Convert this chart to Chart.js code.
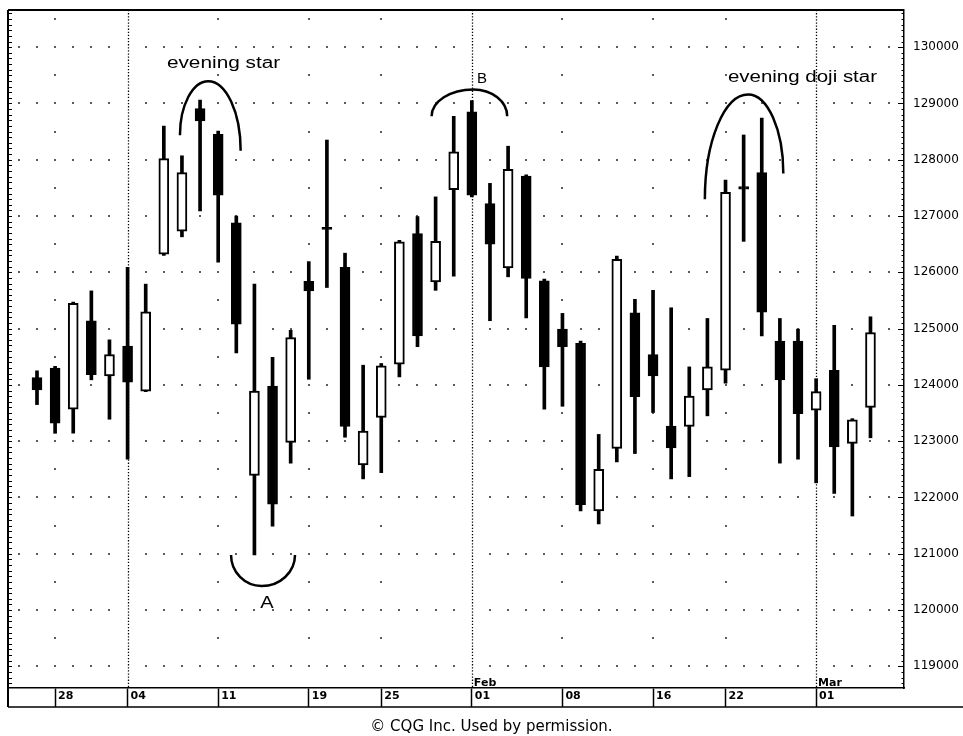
<!DOCTYPE html>
<html>
<head>
<meta charset="utf-8">
<script src="https://cdn.jsdelivr.net/npm/chart.js@4/dist/chart.umd.min.js"></script>
<style>
html,body{margin:0;padding:0;background:#fff;}
#wrap{position:relative;width:963px;height:736px;overflow:hidden;}
#c{position:absolute;left:0;top:0;}
#credit{position:absolute;left:10px;width:963px;top:717px;line-height:18px;text-align:center;font-family:"DejaVu Sans";font-size:15px;color:#000;}
</style>
</head>
<body>
<div id="wrap">
<canvas id="c" width="963" height="736"></canvas>
<div id="credit">© CQG Inc. Used by permission.</div>
</div>
<script>
// ---- data ----
const dates = ['Dec 24','Dec 28','Dec 29','Dec 30','Dec 31','Jan 04','Jan 05','Jan 06','Jan 07','Jan 08',
  'Jan 11','Jan 12','Jan 13','Jan 14','Jan 15','Jan 19','Jan 20','Jan 21','Jan 22','Jan 25',
  'Jan 26','Jan 27','Jan 28','Jan 29','Feb 01','Feb 02','Feb 03','Feb 04','Feb 05','Feb 08',
  'Feb 09','Feb 10','Feb 11','Feb 12','Feb 16','Feb 17','Feb 18','Feb 19','Feb 22','Feb 23',
  'Feb 24','Feb 25','Feb 26','Mar 01','Mar 02','Mar 03','Mar 04'];
const opens  = [124130,124300,123570,125140,124160,124690,123890,126320,126730,128910,
  128450,126880,122390,123980,122980,125840,126800,126090,122580,123420,
  124370,126690,125830,127470,128850,127220,126080,127710,125850,124990,
  124740,121760,122870,125280,124540,123270,123260,123910,124260,127525,
  127770,124780,124780,123550,124260,122960,123600];
const highs  = [124250,124330,125470,125670,124800,126090,125790,128600,128070,129060,
  128510,127000,125790,124490,124970,126190,128350,126340,124350,124380,
  126570,126990,127340,128770,129050,127580,128240,127730,125880,125270,
  124780,123120,126290,125520,125680,125370,124320,125180,127640,128440,
  128740,125180,124990,124110,125060,123400,125210];
const lows   = [123650,123140,123140,124090,123390,122680,123880,126300,126630,127090,
  126180,124570,120980,121490,122610,124100,125730,123070,122330,122440,
  124140,124680,125680,125930,127340,125140,125920,125190,123570,123620,
  121760,121530,122630,122780,123510,122330,122370,123450,124030,126550,
  124870,122610,122680,122260,122070,121670,123060];
const closes = [123910,123320,125450,124180,124540,124050,125300,128020,127770,128690,
  127370,125080,123890,121880,124840,125670,126760,123260,123180,124340,
  126540,124870,126550,128140,127370,126500,127830,125890,124320,124680,
  121870,122500,126230,123790,124160,122880,123800,124320,127420,127475,
  125290,124090,123490,123880,122900,123380,124930];
const weekTickSlots  = [2,6,11,16,20,25,30,35,39,44];
const weekTickLabels = ['28','04','11','19','25','01','08','16','22','01'];
const monthSlots  = [6,25,44];
const monthLabels = ['','Feb','Mar'];
const priceTicks = [119000,120000,121000,122000,123000,124000,125000,126000,127000,128000,129000,130000];
const annotationTexts = ['evening star','B','A','evening doji star'];

// ---- layout (positions in data units: slot index, price) ----
const SLOT_MIN = -0.6, SLOT_MAX = 48.85, SLOT_LAST = 48;
const PRICE_MIN = 118615, PRICE_MAX = 130660;
const arcs = [
  [[8.89,128437],[10.45,129396],[12.24,128158]],
  [[22.78,128774],[25.08,129249],[26.95,128774]],
  [[11.71,120977],[13.40,120426],[15.24,120977]],
  [[37.86,127300],[40.25,129160],[42.19,127757]]
];
const textPos = [
  {slot:8.17, price:129627, align:'left', size:16, sx:1.3},
  {slot:25.56, price:129361, align:'center', size:15, sx:1.0},
  {slot:13.69, price:120036, align:'center', size:16, sx:1.25},
  {slot:39.13, price:129384, align:'left', size:16, sx:1.28}
];

const slots = dates.map((d, i) => i + 1);
const wickData = slots.map((s, i) => ({x: s, y: [lows[i], highs[i]]}));
const bodyData = slots.map((s, i) => ({x: s, y: [opens[i], closes[i]]}));
const bodyFill = slots.map((s, i) => closes[i] >= opens[i] ? '#ffffff' : '#000000');

Chart.defaults.font.family = '"DejaVu Sans"';
Chart.defaults.color = '#000';

const decor = {
  id: 'decor',
  beforeDatasetsDraw(chart) {
    const {ctx, chartArea: a, scales: {x, y}} = chart;
    ctx.save();
    ctx.fillStyle = '#000';
    for (const v of priceTicks) {
      const py = y.getPixelForValue(v);
      for (let s = 0; s <= SLOT_LAST; s++) {
        if (monthSlots.includes(s)) continue;
        const px = x.getPixelForValue(s);
        ctx.fillRect(Math.round(px) - 0.8, Math.round(py) - 0.8, 1.6, 1.6);
      }
    }
    for (const v of priceTicks) {
      const hv = v + 500;
      if (hv > PRICE_MAX) continue;
      const py = y.getPixelForValue(hv);
      for (const s of weekTickSlots) {
        if (monthSlots.includes(s)) continue;
        const px = x.getPixelForValue(s);
        ctx.fillRect(Math.round(px) - 0.8, Math.round(py) - 0.8, 1.6, 1.6);
      }
    }
    ctx.strokeStyle = '#000';
    ctx.lineWidth = 1.3;
    ctx.setLineDash([1.3, 1.8]);
    for (const s of monthSlots) {
      const px = Math.round(x.getPixelForValue(s)) + 0.5;
      ctx.beginPath();
      ctx.moveTo(px, a.top);
      ctx.lineTo(px, a.bottom);
      ctx.stroke();
    }
    ctx.restore();
  },
  afterDraw(chart) {
    const {ctx, chartArea: a, scales: {x, y}} = chart;
    const W = chart.width;
    ctx.save();
    ctx.strokeStyle = '#000';
    ctx.fillStyle = '#000';
    ctx.lineWidth = 2;
    ctx.beginPath();
    ctx.moveTo(a.left, a.top); ctx.lineTo(a.right, a.top);
    ctx.moveTo(a.left, a.top); ctx.lineTo(a.left, a.bottom + 19);
    ctx.stroke();
    ctx.lineWidth = 1.5;
    ctx.beginPath();
    ctx.moveTo(a.left, a.bottom + 19); ctx.lineTo(W, a.bottom + 19);
    ctx.stroke();
    ctx.lineWidth = 1;
    ctx.beginPath();
    for (let v = Math.ceil(PRICE_MIN / 100) * 100; v <= PRICE_MAX; v += 100) {
      const py = Math.round(y.getPixelForValue(v)) + 0.5;
      ctx.moveTo(a.left, py); ctx.lineTo(a.left + 4, py);
      const len = (v % 1000 === 0) ? 6 : 2.5;
      ctx.moveTo(a.right - len, py); ctx.lineTo(a.right, py);
    }
    ctx.stroke();
    ctx.font = 'bold 11px "DejaVu Sans"';
    ctx.textAlign = 'left';
    ctx.textBaseline = 'alphabetic';
    monthSlots.forEach((s, i) => {
      if (!monthLabels[i]) return;
      ctx.fillText(monthLabels[i], x.getPixelForValue(s) + 2, a.bottom - 2);
    });
    ctx.lineWidth = 2.5;
    const k = 0.552;
    for (const arc of arcs) {
      const [s, p, e] = arc.map(([sl, pr]) => ({x: x.getPixelForValue(sl), y: y.getPixelForValue(pr)}));
      ctx.beginPath();
      ctx.moveTo(s.x, s.y);
      ctx.bezierCurveTo(s.x, s.y + k * (p.y - s.y), p.x - k * (p.x - s.x), p.y, p.x, p.y);
      ctx.bezierCurveTo(p.x + k * (e.x - p.x), p.y, e.x, e.y + k * (p.y - e.y), e.x, e.y);
      ctx.stroke();
    }
    annotationTexts.forEach((t, i) => {
      const tp = textPos[i];
      ctx.save();
      ctx.translate(x.getPixelForValue(tp.slot), y.getPixelForValue(tp.price));
      ctx.scale(tp.sx, 1);
      ctx.font = tp.size + 'px "Liberation Sans"';
      ctx.textAlign = tp.align;
      ctx.textBaseline = 'alphabetic';
      ctx.fillText(t, 0, 0);
      ctx.restore();
    });
    ctx.restore();
  }
};

new Chart(document.getElementById('c'), {
  type: 'bar',
  data: {
    datasets: [
      {
        label: 'body', data: bodyData, order: 0, grouped: false,
        barThickness: 10, backgroundColor: bodyFill, borderColor: '#000',
        borderWidth: 2, borderSkipped: false
      },
      {
        label: 'range', data: wickData, order: 1, grouped: false,
        barThickness: 3, backgroundColor: '#000', borderWidth: 0
      }
    ]
  },
  options: {
    responsive: false,
    animation: false,
    devicePixelRatio: 1,
    layout: {padding: {left: 8, top: 10, right: 0, bottom: 0}},
    plugins: {legend: {display: false}, tooltip: {enabled: false}, title: {display: false}},
    scales: {
      x: {
        type: 'linear', position: 'bottom', min: SLOT_MIN, max: SLOT_MAX, offset: false,
        afterBuildTicks: s => { s.ticks = weekTickSlots.map(v => ({value: v})); },
        afterFit: s => { s.height = 48; },
        grid: {display: true, offset: false, drawOnChartArea: false, drawTicks: true, tickLength: 19, tickColor: '#000', tickWidth: 1.5},
        border: {display: true, color: '#000', width: 1.5},
        ticks: {
          autoSkip: false, maxRotation: 0, align: 'start', labelOffset: 3, padding: -17,
          font: {size: 11, weight: 'bold'}, color: '#000',
          callback: v => weekTickLabels[weekTickSlots.indexOf(v)]
        }
      },
      y: {
        type: 'linear', position: 'right', min: PRICE_MIN, max: PRICE_MAX,
        afterBuildTicks: s => { s.ticks = priceTicks.map(v => ({value: v})); },
        afterFit: s => { s.width = 59; },
        grid: {display: true, drawOnChartArea: false, drawTicks: true, tickLength: 9, tickColor: 'rgba(0,0,0,0)'},
        border: {display: true, color: '#000', width: 1.5},
        ticks: {padding: 0, font: {size: 12}, color: '#000', callback: v => String(v)}
      }
    }
  },
  plugins: [decor]
});
</script>
</body>
</html>
